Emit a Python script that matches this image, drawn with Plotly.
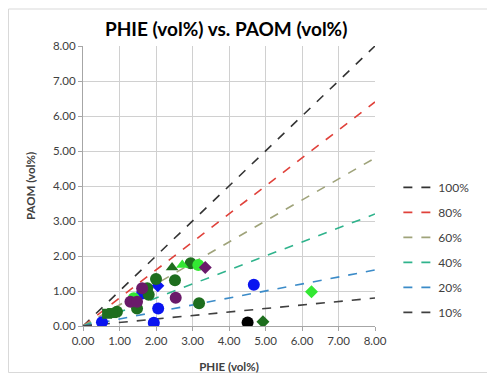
import plotly.graph_objects as go

# ---- data ----
ratio_names = ["100%", "80%", "60%", "40%", "20%", "10%"]
ratio_values = [1.0, 0.8, 0.6, 0.4, 0.2, 0.1]
ratio_colors = ["#333333", "#e0413a", "#9fa37a", "#2fb38c", "#3b8bc8", "#404040"]
line_x = [0.0, 8.0]

blue_circle_x = [0.52, 1.94, 2.06, 4.68, 1.62]
blue_circle_y = [0.11, 0.09, 0.50, 1.18, 0.93]
blue_diamond_x = [2.05]
blue_diamond_y = [1.15]

dkgreen_circle_x = [0.93, 1.48, 1.80, 1.76, 2.00, 2.52, 2.95, 3.18]
dkgreen_circle_y = [0.41, 0.50, 0.89, 1.08, 1.34, 1.31, 1.79, 0.65]
dkgreen_square_x = [0.66, 0.80]
dkgreen_square_y = [0.35, 0.37]
dkgreen_triangle_x = [2.44]
dkgreen_triangle_y = [1.67]
dkgreen_diamond_x = [4.93]
dkgreen_diamond_y = [0.12]

green_triangle_x = [2.72]
green_triangle_y = [1.74]
green_circle_x = [3.16, 1.39]
green_circle_y = [1.74, 0.79]
green_diamond_x = [6.26]
green_diamond_y = [0.98]

purple_circle_x = [1.30, 1.48, 1.62, 2.54]
purple_circle_y = [0.69, 0.69, 1.08, 0.81]
purple_diamond_x = [3.35]
purple_diamond_y = [1.67]

black_circle_x = [4.51]
black_circle_y = [0.10]

x_ticks = [0, 1, 2, 3, 4, 5, 6, 7, 8]
y_ticks = [0, 1, 2, 3, 4, 5, 6, 7, 8]

fig = go.Figure()

for name, k, col in zip(ratio_names, ratio_values, ratio_colors):
    fig.add_trace(go.Scatter(
        x=line_x, y=[v * k for v in line_x], mode="lines", name=name,
        line=dict(color=col, width=1.6, dash="dash"),
        legendgroup=name, hoverinfo="skip"))

BLUE = "#0a14f0"
DKG = "#1e6e1e"
GRN = "#33e833"
PUR = "#6a1a6a"
BLK = "#000000"

marker_sets = [
    (blue_circle_x, blue_circle_y, BLUE, "circle", 12),
    (blue_diamond_x, blue_diamond_y, BLUE, "diamond", 10),
    (dkgreen_circle_x, dkgreen_circle_y, DKG, "circle", 12),
    (dkgreen_square_x, dkgreen_square_y, DKG, "square", 10),
    (dkgreen_triangle_x, dkgreen_triangle_y, DKG, "triangle-up", 11),
    (dkgreen_diamond_x, dkgreen_diamond_y, DKG, "diamond", 10),
    (green_triangle_x, green_triangle_y, GRN, "triangle-up", 11),
    (green_circle_x, green_circle_y, GRN, "circle", 12),
    (green_diamond_x, green_diamond_y, GRN, "diamond", 10),
    (purple_circle_x, purple_circle_y, PUR, "circle", 12),
    (purple_diamond_x, purple_diamond_y, PUR, "diamond", 10),
    (black_circle_x, black_circle_y, BLK, "circle", 12),
]
for xs, ys, col, sym, sz in marker_sets:
    fig.add_trace(go.Scatter(
        x=xs, y=ys, mode="markers", showlegend=False,
        marker=dict(color=col, symbol=sym, size=sz, line=dict(width=0))))

axis_common = dict(
    range=[0, 8], tickvals=x_ticks, tickformat=".2f",
    showgrid=True, gridcolor="#d0d0d0", gridwidth=1,
    showline=True, linecolor="#a6a6a6", linewidth=1,
    ticks="outside", ticklen=4, tickcolor="#a6a6a6",
    zeroline=False, mirror=False, automargin=False,
    tickfont=dict(family="Lato", size=11.5, color="#404040"),
)

# page body has an 8px margin, so the figure is sized/offset to compensate
W, H = 487, 365
L, T, R, B = 75, 38, 120, 47
PW, PH = W - L - R, H - T - B

fig.update_layout(
    width=W, height=H,
    margin=dict(l=L, r=R, t=T, b=B, autoexpand=False),
    paper_bgcolor="white", plot_bgcolor="white",
    title=dict(text="<b>PHIE (vol%) vs. PAOM (vol%)</b>",
               font=dict(family="Lato", size=19, color="#000000"),
               x=0.448, xanchor="center", y=0.942, yanchor="middle"),
    xaxis=dict(axis_common, title=dict(text="<b>PHIE (vol%)</b>", standoff=17,
               font=dict(family="Lato", size=11.5, color="#404040"))),
    yaxis=dict(axis_common, tickvals=y_ticks,
               title=dict(text="<b>PAOM (vol%)</b>", standoff=14,
               font=dict(family="Lato", size=11.5, color="#404040"))),
    legend=dict(x=1.08, xanchor="left", y=0.272, yanchor="middle",
                font=dict(family="Lato", size=12, color="#404040"),
                tracegroupgap=6, bgcolor="rgba(0,0,0,0)"),
    showlegend=True,
    shapes=[dict(type="rect", xref="paper", yref="paper",
                 x0=(0.5 - L) / PW, x1=(W - 1 - L) / PW,
                 y0=(T + PH - (H - 0.5)) / PH,
                 y1=(T + PH - 1) / PH,
                 line=dict(color="#d9d9d9", width=1), fillcolor="rgba(0,0,0,0)",
                 layer="below")],
)

fig.write_html("out.html")
